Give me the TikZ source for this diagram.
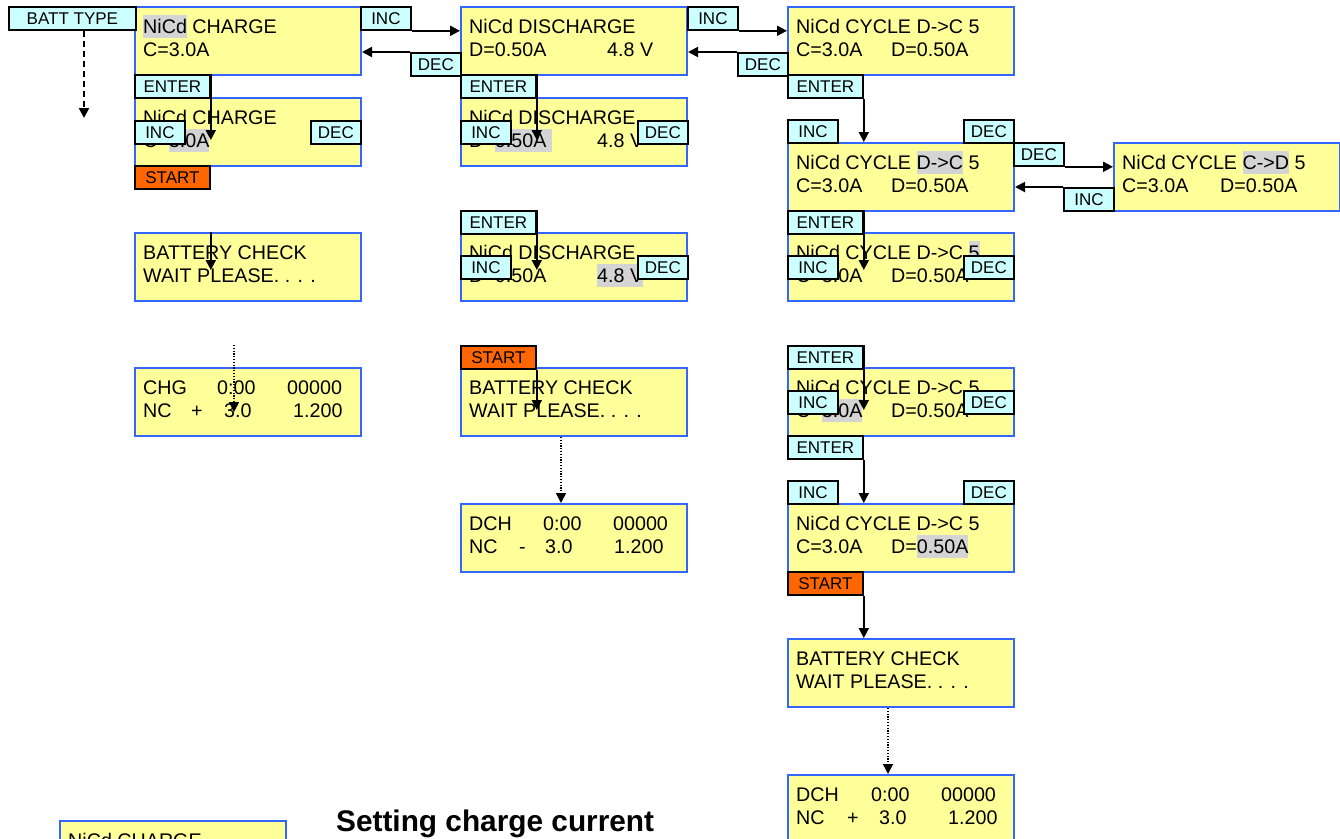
\documentclass[tikz,border=0pt]{standalone}
\usepackage{fontspec}
\setmainfont{Liberation Sans}
\usetikzlibrary{arrows.meta}
\definecolor{scrfill}{RGB}{255,255,153}
\definecolor{scrdraw}{RGB}{51,102,255}
\definecolor{keyfill}{RGB}{204,255,255}
\definecolor{startfill}{RGB}{255,102,0}
\definecolor{hlgray}{RGB}{212,212,212}
\newcommand{\hl}[1]{{\setlength{\fboxsep}{0pt}\colorbox{hlgray}{\rule[-4.5pt]{0pt}{22.5pt}#1}}}
\newcommand{\scrbox}[5]{%
  \node[screen] (#1) at (#2,#3) {};
  \node[scrline] (#1-a) at (#2+9,#3+27) {#4};
  \node[scrline] (#1-b) at (#2+9,#3+50) {#5};
}
\newcommand{\mb}[2]{\makebox[#1pt][l]{#2}}
\tikzset{
  screen/.style={draw=scrdraw, fill=scrfill, line width=2pt, minimum width=226pt, minimum height=68pt, anchor=north west, inner sep=0pt},
  scrline/.style={anchor=base west, inner sep=0pt, font=\fontsize{19.7pt}{23pt}\selectfont},
  kbtn/.style={draw=black, fill=keyfill, line width=1.8pt, minimum height=23pt, anchor=north west, inner sep=0pt, font=\fontsize{17pt}{20pt}\selectfont},
  kshort/.style={kbtn, minimum width=50pt},
  klong/.style={kbtn, minimum width=75pt},
  kstart/.style={klong, fill=startfill},
  arr/.style={line width=2pt, -{Triangle[length=10pt,width=10pt]}},
  dasharr/.style={arr, dash pattern=on 6pt off 4pt},
  dotarr/.style={arr, line width=1.5pt, dash pattern=on 1.2pt off 1.6pt},
}
\begin{document}
\begin{tikzpicture}[x=1pt,y=-1pt]
\useasboundingbox (0,0) rectangle (1340,838);
\clip (0,0) rectangle (1340,838);

% ---------- screens ----------
% column 1
\scrbox{c1b1}{134}{6}{\hl{NiCd} CHARGE}{C=3.0A}
\scrbox{c1b2}{134}{97}{NiCd CHARGE}{C=\hl{3.0A}}
\scrbox{c1b3}{134}{232}{BATTERY CHECK}{WAIT PLEASE. . . .}
\scrbox{c1b4}{134}{367}{\mb{74}{CHG}\mb{70}{0:00}00000}{\mb{48}{NC}\mb{33}{+}\mb{69}{3.0}1.200}
% column 2
\scrbox{c2b1}{460}{6}{NiCd DISCHARGE}{\mb{138}{D=0.50A}4.8 V}
\scrbox{c2b2}{460}{97}{NiCd DISCHARGE}{\mb{128}{D=\hl{0.50A\ }}4.8 V}
\scrbox{c2b3}{460}{232}{NiCd DISCHARGE}{\mb{128}{D=0.50A}\hl{4.8 V}}
\scrbox{c2b4}{460}{367}{BATTERY CHECK}{WAIT PLEASE. . . .}
\scrbox{c2b5}{460}{503}{\mb{74}{DCH}\mb{70}{0:00}00000}{\mb{50}{NC}\mb{26}{-}\mb{69}{3.0}1.200}
% column 3
\scrbox{c3b1}{787}{6}{NiCd CYCLE D->C 5}{\mb{95}{C=3.0A}D=0.50A}
\scrbox{c3b2}{787}{142}{NiCd CYCLE \hl{D->C} 5}{\mb{95}{C=3.0A}D=0.50A}
\scrbox{c3b3}{787}{232}{NiCd CYCLE D->C \hl{5}}{\mb{95}{C=3.0A}D=0.50A}
\scrbox{c3b4}{787}{367}{NiCd CYCLE D->C 5}{\mb{95}{C=\hl{3.0A}}D=0.50A}
\scrbox{c3b5}{787}{503}{NiCd CYCLE D->C 5}{\mb{95}{C=3.0A}D=\hl{0.50A}}
\scrbox{c3b6}{787}{638}{BATTERY CHECK}{WAIT PLEASE. . . .}
\scrbox{c3b7}{787}{774}{\mb{75}{DCH}\mb{70}{0:00}00000}{\mb{51}{NC}\mb{32}{+}\mb{69}{3.0}1.200}
% column 4
\scrbox{c4b}{1113}{142}{NiCd CYCLE \hl{C->D} 5}{\mb{98}{C=3.0A}D=0.50A}
% bottom-left (cut off)
\node[screen] (c0b) at (59,820) {};
\node[scrline] (c0b-a) at (68,847) {NiCd CHARGE};

% title
\node[anchor=base west, inner sep=0pt, font=\bfseries\fontsize{29.8pt}{34pt}\selectfont] (title) at (336,831) {Setting charge current};

% ---------- keys ----------
\node[kbtn, minimum width=127pt] (batt) at (8,6) {BATT TYPE};
\node[kshort] (c12inc) at (360,6) {INC};
\node[kshort] (c12dec) at (410,52) {DEC};
\node[kshort] (c23inc) at (687,6) {INC};
\node[kshort] (c23dec) at (737,52) {DEC};

\node[klong] (c1ent) at (134,74) {ENTER};
\node[kshort] (c1inc) at (134,120) {INC};
\node[kshort] (c1dec) at (310,120) {DEC};
\node[kstart] (c1start) at (134,165) {START};

\node[klong] (c2ent1) at (460,74) {ENTER};
\node[kshort] (c2inc1) at (460,120) {INC};
\node[kshort] (c2dec1) at (637,120) {DEC};
\node[klong] (c2ent2) at (460,210) {ENTER};
\node[kshort] (c2inc2) at (460,255) {INC};
\node[kshort] (c2dec2) at (637,255) {DEC};
\node[kstart] (c2start) at (460,345) {START};

\node[klong] (c3ent1) at (787,74) {ENTER};
\node[kshort] (c3inc1) at (787,119) {INC};
\node[kshort] (c3dec1) at (963,119) {DEC};
\node[kshort] (c34dec) at (1013,142) {DEC};
\node[kshort] (c34inc) at (1063,187) {INC};
\node[klong] (c3ent2) at (787,210) {ENTER};
\node[kshort] (c3inc2) at (787,255) {INC};
\node[kshort] (c3dec2) at (963,255) {DEC};
\node[klong] (c3ent3) at (787,345) {ENTER};
\node[kshort] (c3inc3) at (787,390) {INC};
\node[kshort] (c3dec3) at (963,390) {DEC};
\node[klong] (c3ent4) at (787,435) {ENTER};
\node[kshort] (c3inc4) at (787,480) {INC};
\node[kshort] (c3dec4) at (963,480) {DEC};
\node[kstart] (c3start) at (787,571) {START};

% ---------- free ends ----------
\coordinate (yA) at (0,140);
\coordinate (yB) at (0,270);
\coordinate (yC) at (0,410);
\coordinate (battend) at (84,118);
\coordinate (d1s) at (234,345);
\coordinate (d1e) at (234,412);
\coordinate (d2x) at (561,0);
\coordinate (d3x) at (888,0);

% ---------- connectors ----------
% horizontal
\draw[arr] (c12inc.south east) -- (c12inc.south east -| c2b1.west);
\draw[arr] (c12dec.north west) -- (c12dec.north west -| c1b1.east);
\draw[arr] (c23inc.south east) -- (c23inc.south east -| c3b1.west);
\draw[arr] (c23dec.north west) -- (c23dec.north west -| c2b1.east);
\draw[arr] (c34dec.south east) -- (c34dec.south east -| c4b.west);
\draw[arr] (c34inc.north west) -- (c34inc.north west -| c3b2.east);

% column 1
\draw[dasharr] (batt.south -| battend) -- (battend);
\draw[arr] (c1ent.north east) -- (c1ent.north east |- yA);
\draw[arr] (c1start.east |- c1b3.north) -- (c1start.east |- yB);
\draw[dotarr] (d1s) -- (d1e);

% column 2
\draw[arr] (c2ent1.north east) -- (c2ent1.north east |- yA);
\draw[arr] (c2ent2.north east) -- (c2ent2.north east |- yB);
\draw[arr] (c2start.south east) -- (c2start.south east |- yC);
\draw[dotarr] (c2b4.south -| d2x) -- (c2b5.north -| d2x);

% column 3
\draw[arr] (c3ent1.south east) -- (c3ent1.south east |- c3b2.north);
\draw[arr] (c3ent2.north east) -- (c3ent2.north east |- yB);
\draw[arr] (c3ent3.north east) -- (c3ent3.north east |- yC);
\draw[arr] (c3ent4.south east) -- (c3ent4.south east |- c3b5.north);
\draw[arr] (c3start.south east) -- (c3start.south east |- c3b6.north);
\draw[dotarr] (c3b6.south -| d3x) -- (c3b7.north -| d3x);
\end{tikzpicture}
\end{document}
